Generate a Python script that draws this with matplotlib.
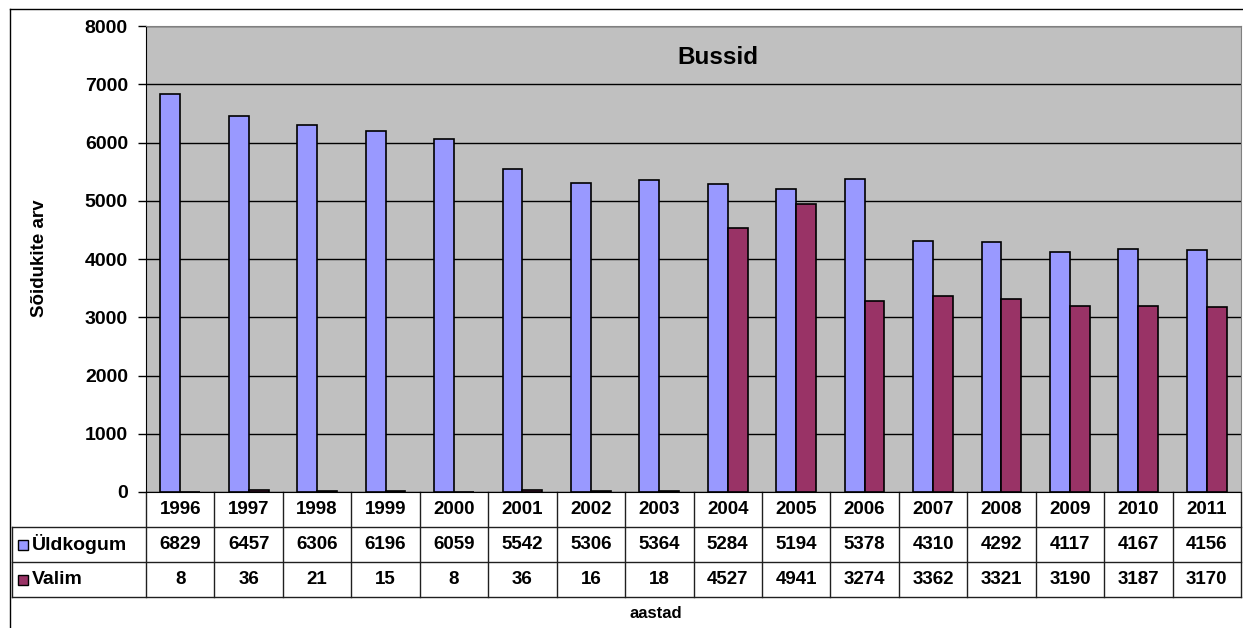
import matplotlib
matplotlib.use("Agg")
import matplotlib.pyplot as plt
from matplotlib.patches import Rectangle
from matplotlib.lines import Line2D
from matplotlib.transforms import blended_transform_factory

years = [1996, 1997, 1998, 1999, 2000, 2001, 2002, 2003,
         2004, 2005, 2006, 2007, 2008, 2009, 2010, 2011]
uldkogum = [6829, 6457, 6306, 6196, 6059, 5542, 5306, 5364,
            5284, 5194, 5378, 4310, 4292, 4117, 4167, 4156]
valim = [8, 36, 21, 15, 8, 36, 16, 18,
         4527, 4941, 3274, 3362, 3321, 3190, 3187, 3170]
series_names = ["Üldkogum", "Valim"]
series_colors = ["#9999FF", "#993366"]
yticks = [0, 1000, 2000, 3000, 4000, 5000, 6000, 7000, 8000]

plt.rcParams['font.family'] = ['Liberation Sans', 'DejaVu Sans']
plt.rcParams['font.weight'] = 'bold'

W, H = 1243, 628
fig = plt.figure(figsize=(W / 100, H / 100), dpi=100)

# plot area in pixels
left, right, top, bottom = 146, 1241, 26, 492
ax = fig.add_axes([left / W, 1 - bottom / H, (right - left) / W, (bottom - top) / H])
ax.set_facecolor("#C0C0C0")

n = len(years)
x = list(range(n))
bw = 0.29
ax.bar([i - bw / 2 for i in x], uldkogum, width=bw, color=series_colors[0],
       edgecolor="black", linewidth=1.2, zorder=3)
ax.bar([i + bw / 2 for i in x], valim, width=bw, color=series_colors[1],
       edgecolor="black", linewidth=1.2, zorder=3)

ax.set_xlim(-0.5, n - 0.5)
ax.set_ylim(0, 8000)
ax.set_yticks(yticks)
ax.set_yticklabels([str(t) for t in yticks], fontsize=14, fontweight='bold')
ax.set_xticks([])
ax.tick_params(axis='y', direction='out', length=6, width=1, pad=7)
ax.yaxis.grid(True, color="black", linewidth=1, zorder=1)
ax.set_axisbelow(True)
for s in ["top", "right"]:
    ax.spines[s].set_color("#808080")
ax.spines["left"].set_color("black")
ax.spines["bottom"].set_color("black")

ax.text(0.522, 0.932, "Bussid", transform=ax.transAxes, ha='center', va='center',
        fontsize=17.5, fontweight='bold')

# data table below the axes
tr = blended_transform_factory(ax.transData, ax.transAxes)
rh = 35 / (bottom - top)
lab_left = (12 - left) / (right - left)
lc = "#202020"

def hline(y, x0, x1, trans):
    ax.add_line(Line2D([x0, x1], [y, y], transform=trans, color=lc,
                       linewidth=1, clip_on=False))

def vline(xv, y0, y1, trans):
    ax.add_line(Line2D([xv, xv], [y0, y1], transform=trans, color=lc,
                       linewidth=1, clip_on=False))

hline(-rh, lab_left, 1, ax.transAxes)
hline(-2 * rh, lab_left, 1, ax.transAxes)
hline(-3 * rh, lab_left, 1, ax.transAxes)
for i in range(n + 1):
    vline(i - 0.5, 0, -3 * rh, tr)
vline(lab_left, -rh, -3 * rh, ax.transAxes)

for i, yr in enumerate(years):
    ax.text(i, -0.5 * rh, str(yr), transform=tr, ha='center', va='center',
            fontsize=13.5, fontweight='bold')
    ax.text(i, -1.5 * rh, str(uldkogum[i]), transform=tr, ha='center', va='center',
            fontsize=13.5, fontweight='bold')
    ax.text(i, -2.5 * rh, str(valim[i]), transform=tr, ha='center', va='center',
            fontsize=13.5, fontweight='bold')

# row labels with legend keys
for r, (name, col) in enumerate(zip(series_names, series_colors)):
    yc = 1 - (bottom + 35 * (r + 1.5)) / H
    sq = 10
    fig.add_artist(Rectangle((18 / W, yc - sq / 2 / H), sq / W, sq / H,
                             facecolor=col, edgecolor="black", linewidth=1,
                             transform=fig.transFigure))
    fig.text(32 / W, yc, name, ha='left', va='center', fontsize=14, fontweight='bold')

fig.text(40 / W, 1 - 258 / H, "Sõidukite arv", rotation=90, ha='center', va='center',
         fontsize=13.5, fontweight='bold')
fig.text(656 / W, 1 - 613 / H, "aastad", ha='center', va='center',
         fontsize=12, fontweight='bold')

# outer chart frame
fig.add_artist(Line2D([10 / W, 10 / W], [0, 1 - 9 / H], transform=fig.transFigure,
                      color="black", linewidth=1))
fig.add_artist(Line2D([10 / W, 1], [1 - 9 / H, 1 - 9 / H], transform=fig.transFigure,
                      color="black", linewidth=1))

fig.savefig("out.png", dpi=100)
